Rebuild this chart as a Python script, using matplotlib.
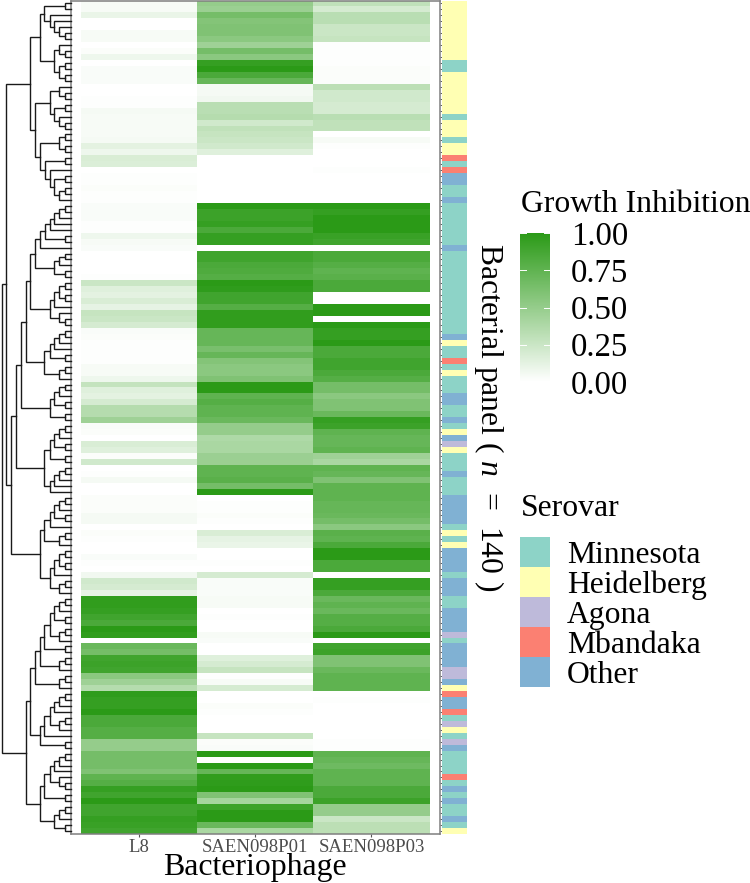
import numpy as np
import matplotlib
matplotlib.use('Agg')
import matplotlib.pyplot as plt
from matplotlib.colors import LinearSegmentedColormap, ListedColormap, Normalize
from matplotlib.cm import ScalarMappable
#----------------------------------------------------------
nan=np.nan
phages=['L8','SAEN098P01','SAEN098P03']
l8=[.04,.04,.10,0,0,.04,.04,0,.02,.08,
	0,.03,.03,.03,0,0,.01,.01,.05,.04,
	.04,.04,.04,.05,.13,.08,.18,.17,0,.01,
	.01,.02,.01,.01,.03,.03,.03,.01,.01,.08,
	.04,.03,0,0,0,0,.01,.25,.15,.13,
	.18,.12,.27,.25,.2,.03,.02,.01,.01,.01,
	.01,.04,.04,.08,.28,.15,.13,.2,.35,.35,
	.45,.03,.02,0,.18,.15,.02,.22,0,.01,
	.05,0,0,.02,.02,.02,.05,.05,0,.02,
	.01,0,0,.03,.01,0,.07,.22,.2,.12,
	.97,.97,.95,.9,.85,1,.97,nan,.7,.65,
	.9,.92,.9,.55,.45,.35,.98,.95,.95,1,
	.85,.85,.8,.8,.5,.5,.65,.65,.65,.6,
	.75,.8,.95,.9,1,.9,.9,.95,.93,.9]
p01=[.5,.47,.65,.58,.6,.6,.55,.45,.65,.55,
	.95,1,.85,.72,.05,.05,.07,.33,.33,.35,
	.22,.3,.27,.25,.22,.15,0,0,0,0,
	0,0,0,0,1,.92,.92,.95,.85,.95,
	.95,nan,.9,.9,.85,.83,.8,1,.98,.9,
	.9,.8,.97,.97,.97,.72,.72,.72,.63,.72,
	.58,.55,.55,.6,1,1,.75,.8,.75,.75,
	.7,.5,.5,.38,.4,.4,.47,.47,.75,.75,
	.78,.65,1,0,.01,.01,.02,.01,0,.18,
	.12,.1,0,0,.01,0,.2,.03,.03,.03,
	.04,.04,0,.01,0,0,.04,.03,0,0,
	.15,.2,.27,.01,.04,.2,0,0,.02,.01,
	0,0,0,.27,.02,.03,1,nan,1,.72,
	.97,.98,1,.6,.42,.92,1,1,.7,.4]
p03=[.3,.2,.33,.33,.25,.25,.27,.01,.01,.01,
	.01,.02,.02,.02,.32,.22,.22,.2,.2,.33,
	.3,.3,0,.04,.01,0,0,0,.01,0,
	0,0,0,0,1,.95,1,1,1,.93,
	.9,nan,.85,.85,.8,.75,.78,.85,.85,nan,
	nan,1,1,nan,1,.95,.95,1,.85,.85,
	.9,.9,.85,.8,.65,.65,.55,.6,.6,.7,
	.95,.92,.75,.72,.72,.75,.45,.4,.75,.72,
	.6,.75,.75,.75,.72,.72,.7,.65,.55,.78,
	.75,.85,1,1,.85,.85,nan,.95,.95,.85,
	.7,.75,.7,.8,.8,.85,1,nan,.9,.92,
	.6,.6,.7,.75,.75,.75,0,.01,0,0,
	0,0,0,0,.01,.01,.75,.72,.68,.75,
	.75,.75,.85,.85,.92,.5,.5,.25,.32,.32]

# one letter per row, M H A B(Mbandaka) O
serovar_rows=('HHHHHHHHHH''MMHHHHHHHM''HHHMHHBMBO''OMMOMMMMMM''MOMMMMMMMM'
	'MMMMMMOHMM''BMHMMMOOMM''OMHOAHMMMO''MMMOOOOOMH''MHOOOOMOOO'
	'MMOOOOAMOO''OOAAOHBOOB''MAHMAOMMMM''BMOMOMMOMH')
serovar_codes='MHABO'
serovar_names=['Minnesota','Heidelberg','Agona','Mbandaka','Other']
serovar_colors=['#8DD3C7','#FFFFB3','#BEBADA','#FB8072','#80B1D3']
bar_ticks=[0,.25,.5,.75,1]

# dendrogram: (distance, upper, lower), L is a leaf
L=None
P=(6,L,L)
def t3(): return (12,P,L)

a1=(31,(27,(6,L,L),(21,L,(17,L,(12,L,P)))),(17,(12,L,P),(12,P,P)))
a21=(21,(12,L,P),(17,P,(12,L,P)))
a22=(31,(12,P,P),(26,P,(21,L,(17,P,(12,P,L)))))
a=(41,a1,(36,a21,a22))
h1=(31,(26,(21,(17,t3(),L),L),P),L)
h2=(17,t3(),P)
i1=(21,(17,(12,P,P),L),(12,L,P))
f=(41,(36,h1,h2),i1)
g=(27,(21,(17,t3(),L),P),t3())
e=(21,(17,t3(),P),P)
c=(50,(45,f,g),e)
b1=(55,c,(27,(21,(17,t3(),P),P),(21,(17,t3(),L),L)))
b2=(31,(27,(21,(17,t3(),P),L),t3()),(21,(17,(12,P,P),L),t3()))
top=(65,a,(60,b1,b2))
j1=(36,(31,(27,(21,(17,t3(),P),t3()),P),t3()),t3())
j2=(31,(27,(21,(17,t3(),L),t3()),L),P)
k=(31,(27,(21,(17,t3(),L),(12,L,P)),P),(17,t3(),P))
bottom=(45,(41,j1,j2),k)
tree=(69,top,bottom)
#----------------------------------------------------------
W,H=750.,883.
def box(x0,y0,x1,y1):
	return [x0/W,1-y1/H,(x1-x0)/W,(y1-y0)/H]

def draw_node(ax,node,leaf):
	if node is None:
		y=leaf[0]+.5
		leaf[0]+=1
		return 0,y
	(d1,y1)=draw_node(ax,node[1],leaf)
	(d2,y2)=draw_node(ax,node[2],leaf)
	d=node[0]
	ax.plot([d1,d,d,d2],[y1,y1,y2,y2],color='#1a1a1a',lw=1.0,
		solid_joinstyle='miter',clip_on=False)
	return d,(y1+y2)/2

def f_00():
	plt.rcParams['font.family']=['Liberation Serif','DejaVu Serif']
	plt.rcParams['mathtext.fontset']='custom'
	plt.rcParams['mathtext.rm']='Liberation Serif'
	plt.rcParams['mathtext.it']='Liberation Serif:italic'

	fig=plt.figure(figsize=(7.5,8.83),dpi=100)
	cmap=LinearSegmentedColormap.from_list('gi',['#FFFFFF','#2B9A17'])
	cmap.set_bad('white')
	norm=Normalize(0,1)

	#heatmap
	ax=fig.add_axes(box(70.5,.5,440,834))
	values=np.array([l8,p01,p03]).T
	ax.pcolormesh(np.arange(4),np.arange(141),np.ma.masked_invalid(values),
		cmap=cmap,norm=norm,rasterized=True)
	ax.set_xlim(-.09,3.09)
	ax.set_ylim(140,0)
	ax.set_xticks(np.arange(3)+.5)
	ax.set_xticklabels(phages,fontsize=13.5,color='#4d4d4d')
	ax.set_yticks(np.arange(140)+.5)
	ax.set_yticklabels([])
	ax.tick_params(axis='x',length=2,width=.8,color='#555555',pad=1.5)
	ax.tick_params(axis='y',left=False,right=True,length=1.4,width=.6,color='#444444')
	for s in ax.spines.values():
		s.set_color('#7f7f7f')
		s.set_linewidth(1.1)
	fig.text(255/W,1-868/H,'Bacteriophage',fontsize=22.9,ha='center',va='center')

	#dendrogram
	dax=fig.add_axes(box(0,.5,70.5,834))
	dax.set_xlim(70.5,0)
	dax.set_ylim(140,0)
	dax.axis('off')
	draw_node(dax,tree,[0])

	#serovar strip
	sax=fig.add_axes(box(441.5,.5,467,834))
	idx=np.array([[serovar_codes.index(c_)] for c_ in serovar_rows])
	sax.pcolormesh(np.arange(2),np.arange(141),idx,cmap=ListedColormap(serovar_colors),
		vmin=-.5,vmax=4.5,rasterized=True)
	sax.set_ylim(140,0)
	sax.axis('off')

	fig.text(489/W,1-417/H,r'Bacterial panel ( $\mathit{n}$  =  140 )',rotation=-90,
		fontsize=22.8,ha='center',va='center')

	#colour bar
	fig.text(521/W,1-204/H,'Growth Inhibition',fontsize=22.8,ha='left',va='center')
	cax=fig.add_axes(box(520,233,550,382))
	cb=fig.colorbar(ScalarMappable(norm=norm,cmap=cmap),cax=cax)
	cb.outline.set_visible(False)
	cb.set_ticks(bar_ticks)
	cb.set_ticklabels(['%.2f'%t for t in bar_ticks])
	cax.tick_params(length=0,labelsize=23.6,pad=15)
	for t in bar_ticks:
		cax.plot([0,.2],[t,t],color='white',lw=.7,transform=cax.get_yaxis_transform())
		cax.plot([.8,1],[t,t],color='white',lw=.7,transform=cax.get_yaxis_transform())

	#serovar legend
	fig.text(521/W,1-509/H,'Serovar',fontsize=22.8,ha='left',va='center')
	lax=fig.add_axes(box(520,537,750,687))
	lax.set_xlim(0,230)
	lax.set_ylim(len(serovar_names),0)
	lax.axis('off')
	for (i,(name,col)) in enumerate(zip(serovar_names,serovar_colors)):
		lax.barh(i+.5,30,height=.97,color=col)
		lax.text(47,i+.5,name,fontsize=22.8,va='center_baseline',ha='left')

	fig.savefig('out.png',dpi=100)
#----------------------------------------------------------
if __name__=='__main__':
	f_00()
